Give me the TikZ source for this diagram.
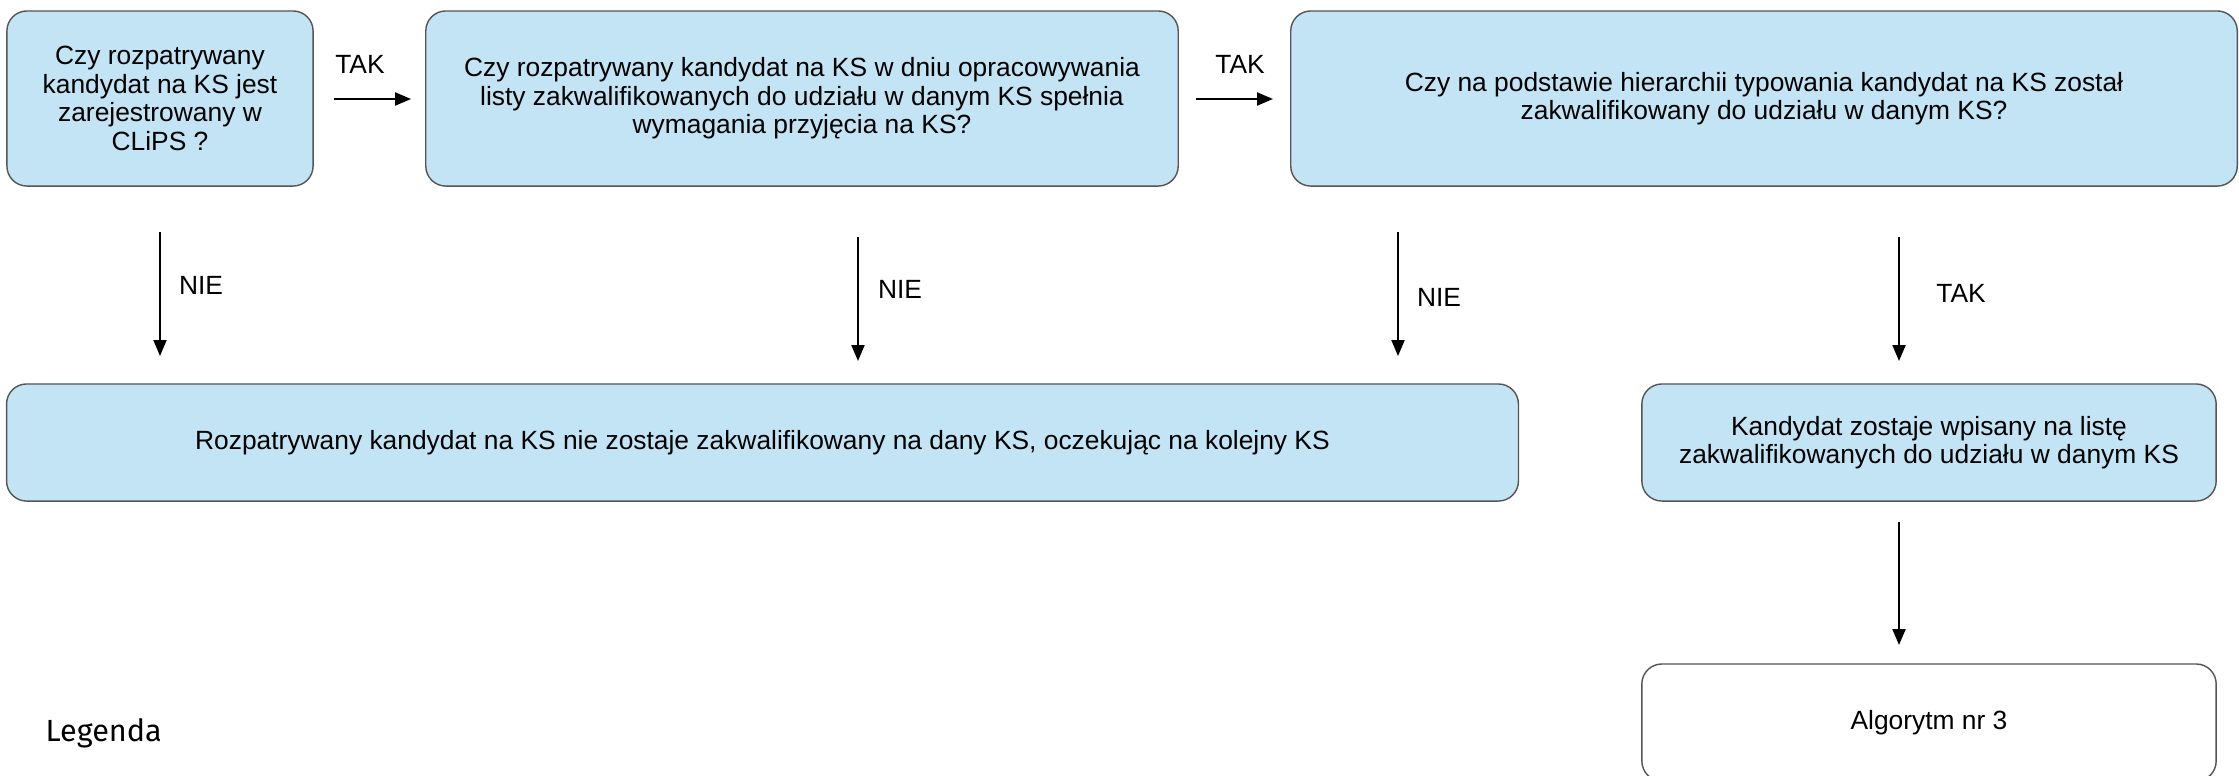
\documentclass[tikz,border=0pt]{standalone}
\usepackage{fontspec}
\setmainfont{Liberation Sans}
\newfontfamily\legfont{Fira Sans}
\usetikzlibrary{arrows.meta,calc}
\definecolor{boxblue}{HTML}{C2E4F4}
\definecolor{boxline}{HTML}{555555}
\begin{document}
\begin{tikzpicture}[x=0.01cm,y=-0.01cm,
  box/.style={draw=boxline, line width=0.4pt, fill=boxblue, rounded corners=0.2cm, align=center, inner sep=0pt,
    font=\fontsize{7.5}{8.1}\selectfont},
  wbox/.style={box, fill=white},
  arr/.style={line width=0.6pt, -{Triangle[length=0.16cm,width=0.13cm]}},
  lbl/.style={font=\fontsize{7.5}{8.1}\selectfont, inner sep=0pt}]
\clip (0,0) rectangle (2239,775);
\useasboundingbox (0,0) rectangle (2239,775);

\node[box, minimum width=3.06cm, minimum height=1.75cm] (b1) at (160,98.5)
  {Czy rozpatrywany\\kandydat na KS jest\\zarejestrowany w\\CLiPS ?};
\node[box, minimum width=7.52cm, minimum height=1.75cm] (b2) at (802,98.5)
  {Czy rozpatrywany kandydat na KS w dniu opracowywania\\listy zakwalifikowanych do udziału w danym KS spełnia\\wymagania przyjęcia na KS?};
\node[box, minimum width=9.46cm, minimum height=1.75cm] (b3) at (1764,98.5)
  {Czy na podstawie hierarchii typowania kandydat na KS został\\zakwalifikowany do udziału w danym KS?};
\node[box, minimum width=15.11cm, minimum height=1.17cm] (b4) at (762.5,442.5)
  {Rozpatrywany kandydat na KS nie zostaje zakwalifikowany na dany KS, oczekując na kolejny KS};
\node[box, minimum width=5.74cm, minimum height=1.17cm] (b5) at (1929,442.5)
  {Kandydat zostaje wpisany na listę\\zakwalifikowanych do udziału w danym KS};
\node[wbox, minimum width=5.74cm, minimum height=1.17cm] (b6) at (1929,722.5)
  {Algorytm nr 3};

% horizontal arrows
\draw[arr, shorten <=0.2cm, shorten >=0.14cm] (b1.east |- 0,99) -- (b2.west |- 0,99);
\draw[arr, shorten <=0.17cm, shorten >=0.17cm] (b2.east |- 0,99) -- (b3.west |- 0,99);
\node[lbl] (t1) at (360,64) {TAK};
\node[lbl] (t2) at (1240,64) {TAK};

% vertical arrows
\coordinate (n1s) at (160,232);  \coordinate (n1e) at (160,356);
\coordinate (n2s) at (858,237);  \coordinate (n2e) at (858,361);
\coordinate (n3s) at (1398,232); \coordinate (n3e) at (1398,356);
\coordinate (t3s) at (1899,237); \coordinate (t3e) at (1899,361);
\coordinate (t4s) at (1899,522); \coordinate (t4e) at (1899,645);
\draw[arr] (n1s) -- (n1e);
\draw[arr] (n2s) -- (n2e);
\draw[arr] (n3s) -- (n3e);
\draw[arr] (t3s) -- (t3e);
\draw[arr] (t4s) -- (t4e);
\node[lbl] (l1) at (201,285) {NIE};
\node[lbl] (l2) at (900,289) {NIE};
\node[lbl] (l3) at (1439,297) {NIE};
\node[lbl] (t3) at (1961,293) {TAK};

\node[anchor=base west, inner sep=0pt, font=\legfont\fontsize{8.7}{10}\selectfont] (leg) at (45,741) {Legenda};
\end{tikzpicture}
\end{document}
